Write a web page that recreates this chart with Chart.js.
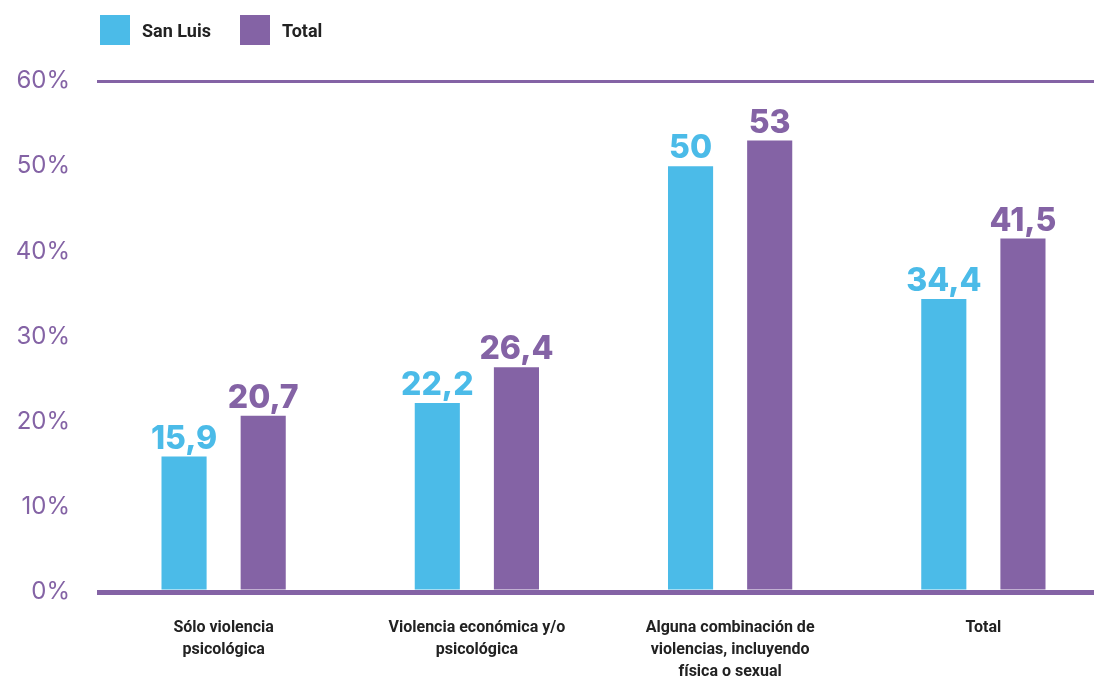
<!DOCTYPE html>
<html>
<head>
<meta charset="utf-8">
<script src="https://cdn.jsdelivr.net/npm/chart.js@4/dist/chart.umd.min.js"></script>
<style>
    body { margin: 0; background: #fff; overflow: hidden; }
    .wrap { position: relative; width: 1110px; height: 679px; }
    .legend { position: absolute; top: 15px; left: 100px; display: flex; font-family: Roboto, sans-serif; font-weight: 700; font-size: 18px; color: #222; }
    .legend .item { display: flex; align-items: center; height: 30px; }
    .legend .box { width: 30px; height: 30px; margin-right: 12px; }
    canvas { display: block; }
</style>
</head>
<body>
<div class="wrap">
    <canvas id="chart" width="1110" height="679"></canvas>
    <div class="legend">
        <div class="item" style="width:140px"><span class="box" style="background:#4BBBE8"></span>San Luis</div>
        <div class="item"><span class="box" style="background:#8463A5"></span>Total</div>
    </div>
</div>
<script>
const categories = [
    ["Sólo violencia", "psicológica"],
    ["Violencia económica y/o", "psicológica"],
    ["Alguna combinación de", "violencias, incluyendo", "física o sexual"],
    ["Total"]
];
const sanLuis = [15.9, 22.2, 50, 34.4];
const total = [20.7, 26.4, 53, 41.5];
const yTicks = [0, 10, 20, 30, 40, 50, 60];

const cyan = "#4BBBE8";
const purple = "#8463A5";

const valueLabels = {
    id: "valueLabels",
    afterDatasetsDraw(chart) {
        const ctx = chart.ctx;
        ctx.save();
        ctx.font = "800 32px Inter, sans-serif";
        ctx.textAlign = "center";
        ctx.textBaseline = "alphabetic";
        chart.data.datasets.forEach((ds, i) => {
            const meta = chart.getDatasetMeta(i);
            ctx.fillStyle = ds.backgroundColor;
            meta.data.forEach((bar, j) => {
                const text = String(ds.data[j]).replace(".", ",");
                ctx.fillText(text, bar.x, bar.y - 8);
            });
        });
        ctx.restore();
    }
};

new Chart(document.getElementById("chart"), {
    type: "bar",
    data: {
        labels: categories,
        datasets: [
            { label: "San Luis", data: sanLuis, backgroundColor: cyan },
            { label: "Total", data: total, backgroundColor: purple }
        ]
    },
    options: {
        responsive: false,
        animation: false,
        events: [],
        categoryPercentage: 0.625,
        barPercentage: 0.57,
        layout: { padding: { top: 81, left: 0, right: 0, bottom: 0 } },
        plugins: {
            legend: { display: false },
            tooltip: { enabled: false }
        },
        scales: {
            x: {
                grid: { display: false },
                border: { display: false },
                ticks: {
                    color: "#222",
                    font: { family: "Roboto, sans-serif", size: 16, weight: "bold", lineHeight: "22px" },
                    padding: 17,
                    maxRotation: 0,
                    autoSkip: false
                },
                afterFit(scale) { scale.height = 87; }
            },
            y: {
                min: 0,
                max: 60,
                z: 1,
                afterBuildTicks(scale) { scale.ticks = yTicks.map(v => ({ value: v })); },
                grid: {
                    drawTicks: false,
                    color: ctx => (ctx.tick.value === 0 || ctx.tick.value === 60) ? purple : "rgba(0,0,0,0)",
                    lineWidth: ctx => ctx.tick.value === 0 ? 5 : 3
                },
                border: { display: false },
                ticks: {
                    color: purple,
                    padding: 27,
                    font: { family: "Inter, sans-serif", size: 24, weight: "normal" },
                    callback: v => v + "%"
                },
                afterFit(scale) { scale.width = 97; }
            }
        }
    },
    plugins: [valueLabels]
});
</script>
</body>
</html>
